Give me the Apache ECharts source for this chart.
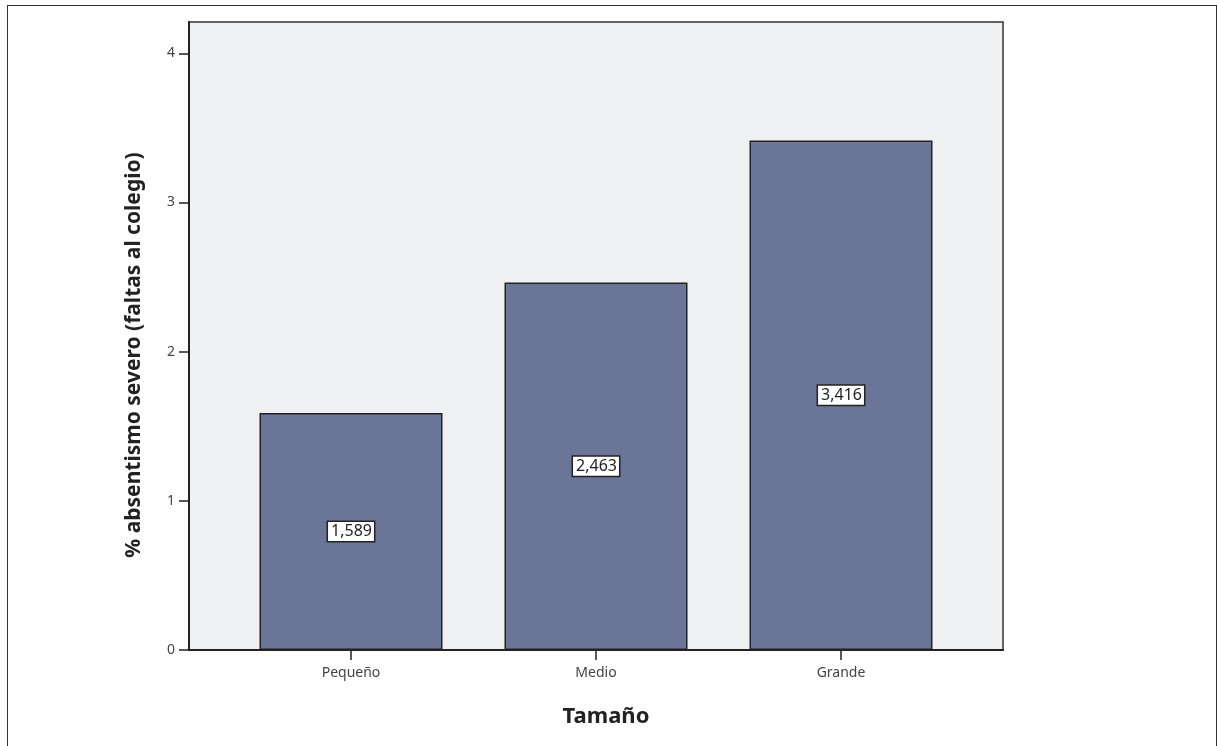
<!DOCTYPE html>
<html>
<head>
<meta charset="utf-8">
<script src="https://cdn.jsdelivr.net/npm/echarts@6/dist/echarts.min.js"></script>
<style>
html,body{margin:0;padding:0;background:#fff;}
#chart{width:1217px;height:746px;}
#frame{position:absolute;left:7px;top:5px;width:1210px;height:745px;border:1.5px solid #333;box-sizing:border-box;pointer-events:none;}
</style>
</head>
<body>
<div id="chart"></div>
<div id="frame"></div>
<script>
const categories = ['Pequeño', 'Medio', 'Grande'];
const values = [1.589, 2.463, 3.416];
const yTicks = [0, 1, 2, 3, 4];

const font = '"Noto Sans", "DejaVu Sans", sans-serif';
const chart = echarts.init(document.getElementById('chart'));
chart.setOption({
  animation: false,
  grid: {
    left: 189, top: 22, right: 214, bottom: 96,
    show: true, backgroundColor: '#eff0f2', borderColor: '#333', borderWidth: 1.5
  },
  xAxis: {
    type: 'value',
    min: -0.6612, max: 2.6612,
    name: 'Tamaño', nameLocation: 'middle', nameGap: 56,
    nameTextStyle: { fontFamily: font, fontSize: 22, fontWeight: 'bold', color: '#222', padding: [0, 0, 0, 20] },
    axisLine: { show: true, onZero: false, lineStyle: { color: '#222', width: 2 } },
    axisTick: { show: true, length: 10, customValues: [0, 1, 2], lineStyle: { color: '#222', width: 1.5 } },
    axisLabel: {
      customValues: [0, 1, 2], margin: 16,
      formatter: v => categories[Math.round(v)],
      fontFamily: font, fontSize: 14, color: '#444'
    },
    splitLine: { show: false }
  },
  yAxis: {
    type: 'value', min: 0, max: 4.21,
    name: '% absentismo severo (faltas al colegio)', nameLocation: 'middle', nameGap: 44,
    nameTextStyle: { fontFamily: font, fontSize: 21, fontWeight: 'bold', color: '#222', padding: [0, 0, 0, -38] },
    axisLine: { show: true, onZero: false, lineStyle: { color: '#222', width: 2 } },
    axisTick: { show: true, length: 10, customValues: yTicks, lineStyle: { color: '#222', width: 1.5 } },
    axisLabel: { customValues: yTicks, margin: 14, fontFamily: font, fontSize: 14, color: '#444' },
    splitLine: { show: false }
  },
  series: [{
    type: 'bar',
    barWidth: 183,
    data: values.map((v, i) => [i, v]),
    itemStyle: { color: '#6a7598', borderColor: '#222', borderWidth: 1.5 },
    label: {
      show: true, position: 'inside',
      formatter: p => p.value[1].toFixed(3).replace('.', ','),
      fontFamily: font, fontSize: 16, color: '#222',
      backgroundColor: '#fff', borderColor: '#222', borderWidth: 1.5,
      padding: [2, 2, 1, 3]
    }
  }]
});
</script>
</body>
</html>
